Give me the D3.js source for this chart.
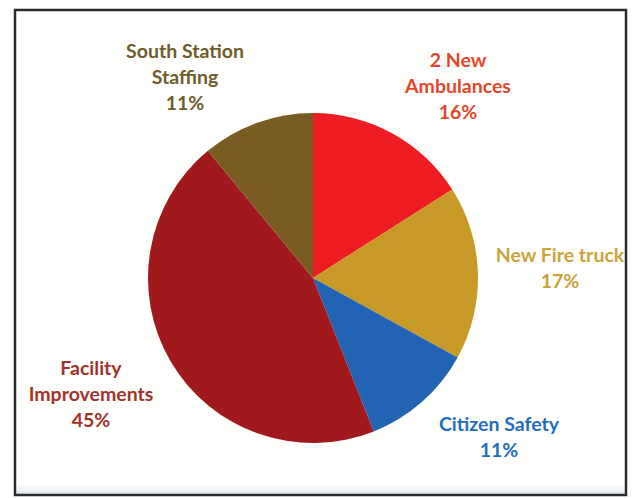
<!DOCTYPE html>
<html>
<head>
<meta charset="utf-8">
<script src="https://cdn.jsdelivr.net/npm/d3@7/dist/d3.min.js"></script>
<style>
  html, body { margin: 0; padding: 0; background: #ffffff; }
  svg { display: block; }
</style>
</head>
<body>
<svg id="chart" width="639" height="498"></svg>
<script>
const categories = ["2 New Ambulances", "New Fire truck", "Citizen Safety", "Facility Improvements", "South Station Staffing"];
const values = [16, 17, 11, 45, 11];
const sliceColors = ["#ee1d24", "#c79a28", "#2264b3", "#a01a1d", "#7a5b22"];
const labelColors = ["#e2472c", "#c9a43a", "#1f6ec0", "#a2332b", "#6e5c2a"];
const labelLines = [
  ["2 New", "Ambulances", "16%"],
  ["New Fire truck", "17%"],
  ["Citizen Safety", "11%"],
  ["Facility", "Improvements", "45%"],
  ["South Station", "Staffing", "11%"]
];
const labelAnchors = [[458, 60], [560, 255], [499, 424], [91, 368], [185, 51]];

const svg = d3.select("#chart");

const grad = svg.append("defs").append("linearGradient")
  .attr("id", "bot").attr("x1", 0).attr("x2", 0).attr("y1", 0).attr("y2", 1);
grad.append("stop").attr("offset", "0").attr("stop-color", "#ffffff");
grad.append("stop").attr("offset", "1").attr("stop-color", "#dfe8ec");

svg.append("rect").attr("x", 15).attr("y", 10).attr("width", 611).attr("height", 485)
  .attr("fill", "#fffffd");
svg.append("rect").attr("x", 15).attr("y", 484).attr("width", 611).attr("height", 11)
  .attr("fill", "url(#bot)");
svg.append("rect").attr("x", 15).attr("y", 10).attr("width", 611).attr("height", 485)
  .attr("fill", "none").attr("stroke", "#2b2b2b").attr("stroke-width", 2.5);

const cx = 313, cy = 278, r = 165;
const pie = d3.pie().sort(null).value(d => d)(values);
const arc = d3.arc().innerRadius(0).outerRadius(r);

svg.append("g").attr("transform", `translate(${cx},${cy})`)
  .selectAll("path").data(pie).join("path")
  .attr("d", arc)
  .attr("fill", (d, i) => sliceColors[i]);

const lab = svg.append("g")
  .attr("font-family", "Lato, 'Open Sans', sans-serif")
  .attr("font-weight", "bold")
  .attr("font-size", 19.5)
  .attr("text-anchor", "middle");

labelLines.forEach((lines, i) => {
  const t = lab.append("text")
    .attr("fill", labelColors[i])
    .attr("x", labelAnchors[i][0])
    .attr("y", labelAnchors[i][1] + 7);
  lines.forEach((ln, j) => {
    t.append("tspan").attr("x", labelAnchors[i][0]).attr("dy", j === 0 ? 0 : 26).text(ln);
  });
});
</script>
</body>
</html>
